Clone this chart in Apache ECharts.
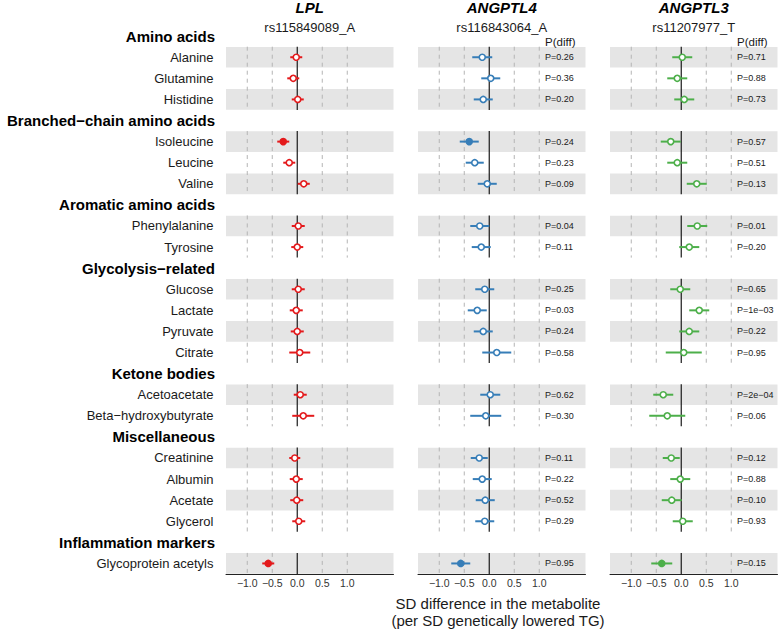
<!DOCTYPE html>
<html><head><meta charset="utf-8">
<script src="https://cdn.jsdelivr.net/npm/echarts@6/dist/echarts.min.js"></script>
<style>html,body{margin:0;padding:0;background:#fff}#c{width:778px;height:631px}</style>
</head><body><div id="c"></div>
<script>
// ---------------- data ----------------
const genes = ["LPL", "ANGPTL4", "ANGPTL3"];
const variants = ["rs115849089_A", "rs116843064_A", "rs11207977_T"];
const groups = ["Amino acids", "Branched\u2212chain amino acids", "Aromatic amino acids",
  "Glycolysis\u2212related", "Ketone bodies", "Miscellaneous", "Inflammation markers"];
const metabolites = ["Alanine", "Glutamine", "Histidine", "Isoleucine", "Leucine", "Valine",
  "Phenylalanine", "Tyrosine", "Glucose", "Lactate", "Pyruvate", "Citrate",
  "Acetoacetate", "Beta\u2212hydroxybutyrate", "Creatinine", "Albumin", "Acetate", "Glycerol",
  "Glycoprotein acetyls"];
const metaboliteGroup = [0, 0, 0, 1, 1, 1, 2, 2, 3, 3, 3, 3, 4, 4, 5, 5, 5, 5, 6];

const lplEst  = [-0.02, -0.08, 0.01, -0.28, -0.16, 0.13, 0.02, 0.00, 0.02, -0.02, 0.00, 0.05, 0.06, 0.12, -0.05, -0.02, -0.01, 0.03, -0.58];
const lplHalf = [0.12, 0.12, 0.12, 0.12, 0.12, 0.12, 0.13, 0.12, 0.13, 0.13, 0.13, 0.21, 0.13, 0.22, 0.11, 0.13, 0.13, 0.13, 0.12];
const lplFilled = [0, 0, 0, 1, 0, 0, 0, 0, 0, 0, 0, 0, 0, 0, 0, 0, 0, 0, 1];

const a4Est  = [-0.14, 0.03, -0.12, -0.40, -0.29, -0.04, -0.19, -0.16, -0.09, -0.24, -0.12, 0.15, 0.02, -0.07, -0.20, -0.14, -0.08, -0.09, -0.57];
const a4Half = [0.20, 0.19, 0.19, 0.19, 0.18, 0.19, 0.19, 0.19, 0.19, 0.19, 0.19, 0.29, 0.20, 0.31, 0.17, 0.19, 0.19, 0.19, 0.19];
const a4Filled = [0, 0, 0, 1, 0, 0, 0, 0, 0, 0, 0, 0, 0, 0, 0, 0, 0, 0, 1];
const a4P = ["0.26", "0.36", "0.20", "0.24", "0.23", "0.09", "0.04", "0.11", "0.25", "0.03", "0.24", "0.58", "0.62", "0.30", "0.11", "0.22", "0.52", "0.29", "0.95"];

const a3Est  = [0.02, -0.08, 0.06, -0.21, -0.08, 0.31, 0.32, 0.16, -0.02, 0.36, 0.16, 0.05, -0.36, -0.28, -0.20, -0.02, -0.19, 0.03, -0.39];
const a3Half = [0.20, 0.20, 0.20, 0.20, 0.20, 0.20, 0.20, 0.20, 0.20, 0.20, 0.20, 0.36, 0.20, 0.36, 0.17, 0.20, 0.20, 0.20, 0.21];
const a3Filled = [0, 0, 0, 0, 0, 0, 0, 0, 0, 0, 0, 0, 0, 0, 0, 0, 0, 0, 1];
const a3P = ["0.71", "0.88", "0.73", "0.57", "0.51", "0.13", "0.01", "0.20", "0.65", "1e\u221203", "0.22", "0.95", "2e\u221204", "0.06", "0.12", "0.88", "0.10", "0.93", "0.15"];

const tickValues = [-1.0, -0.5, 0.0, 0.5, 1.0];
const refLines = [-1.0, -0.5, 0.5, 1.0];
const xTitle = ["SD difference in the metabolite", "(per SD genetically lowered TG)"];

// ---------------- layout ----------------
const FONT = '"Liberation Sans", Arial, Helvetica, sans-serif';
const colors = ["#E41A1C", "#377EB8", "#4DAF4A"];
const X_MIN = -1.425, X_MAX = 1.925;
const gridLeft = [226, 418, 610];
const gridW = 167.5;
const gridTop = 25.6, gridH = 548.4;
const P_X = 1.115;

// build row slots
const rows = [];
const metSlot = [];
const groupSpan = [];
let slot = 0;
groups.forEach((g, gi) => {
  rows.push({ head: true, label: g, slot: slot });
  slot++;
  let k = 0, first = null, last = null;
  metabolites.forEach((m, mi) => {
    if (metaboliteGroup[mi] === gi) {
      rows.push({ head: false, label: m, slot: slot, stripe: k % 2 === 0 });
      metSlot[mi] = slot;
      if (first === null) first = slot;
      last = slot;
      slot++; k++;
    }
  });
  groupSpan.push([first - 0.5, last + 0.5]);
});
const nSlots = slot;
const bandSlots = rows.filter(r => !r.head && r.stripe).map(r => [r.slot]);

const panelData = [
  { est: lplEst, half: lplHalf, filled: lplFilled, p: null },
  { est: a4Est, half: a4Half, filled: a4Filled, p: a4P },
  { est: a3Est, half: a3Half, filled: a3Filled, p: a3P }
];

const grids = [], xAxes = [], yAxes = [], series = [];
panelData.forEach((pd, i) => {
  const col = colors[i];
  grids.push({ left: gridLeft[i], top: gridTop, width: gridW, height: gridH, containLabel: false });
  xAxes.push({
    type: 'value', gridIndex: i, min: X_MIN, max: X_MAX,
    axisLine: { show: true, onZero: false, lineStyle: { color: '#222', width: 1 } },
    axisTick: { show: false }, splitLine: { show: false },
    axisLabel: {
      customValues: tickValues, margin: 3, fontSize: 10.5, fontFamily: FONT, color: '#333',
      formatter: v => (v < 0 ? '\u2212' : '') + Math.abs(v).toFixed(1)
    }
  });
  yAxes.push({ type: 'value', gridIndex: i, min: -0.5, max: nSlots - 0.5, inverse: true, show: false });

  // grey stripes
  series.push({
    type: 'custom', xAxisIndex: i, yAxisIndex: i, z: 1, silent: true,
    data: bandSlots,
    renderItem: (params, api) => {
      const s = api.value(0);
      const p1 = api.coord([X_MIN, s - 0.49]);
      const p2 = api.coord([X_MAX, s + 0.49]);
      return { type: 'rect', shape: { x: p1[0], y: p1[1], width: p2[0] - p1[0], height: p2[1] - p1[1] },
        style: { fill: '#e5e5e5' } };
    }
  });
  // reference lines per group
  series.push({
    type: 'custom', xAxisIndex: i, yAxisIndex: i, z: 2, silent: true,
    data: groupSpan,
    renderItem: (params, api) => {
      const y0 = api.value(0), y1 = api.value(1);
      const children = refLines.map(v => {
        const a = api.coord([v, y0]), b = api.coord([v, y1]);
        return { type: 'line', shape: { x1: a[0], y1: a[1], x2: b[0], y2: b[1] },
          style: { stroke: '#b4b4b4', lineWidth: 1, lineDash: [4, 4] } };
      });
      const a = api.coord([0, y0]), b = api.coord([0, y1]);
      children.push({ type: 'line', shape: { x1: a[0], y1: a[1], x2: b[0], y2: b[1] },
        style: { stroke: '#1a1a1a', lineWidth: 1.2 } });
      return { type: 'group', children: children };
    }
  });
  // CI bars
  series.push({
    type: 'custom', xAxisIndex: i, yAxisIndex: i, z: 3, silent: true,
    data: pd.est.map((e, mi) => [e - pd.half[mi], e + pd.half[mi], metSlot[mi]]),
    renderItem: (params, api) => {
      const a = api.coord([api.value(0), api.value(2)]);
      const b = api.coord([api.value(1), api.value(2)]);
      return { type: 'line', shape: { x1: a[0], y1: a[1], x2: b[0], y2: b[1] },
        style: { stroke: col, lineWidth: 2 } };
    }
  });
  // point estimates
  series.push({
    type: 'scatter', xAxisIndex: i, yAxisIndex: i, z: 4, silent: true,
    symbol: 'circle', symbolSize: 6,
    data: pd.est.map((e, mi) => ({
      value: [e, metSlot[mi]],
      itemStyle: { color: pd.filled[mi] ? col : '#ffffff', borderColor: col, borderWidth: 1.6, opacity: 1 }
    }))
  });
  // P values
  if (pd.p) {
    series.push({
      type: 'custom', xAxisIndex: i, yAxisIndex: i, z: 5, silent: true,
      data: pd.p.map((t, mi) => [metSlot[mi]]),
      renderItem: (params, api) => {
        const c = api.coord([P_X, api.value(0)]);
        return { type: 'text', x: c[0], y: c[1],
          style: { text: 'P=' + pd.p[params.dataIndex], fill: '#1a1a1a', fontSize: 9, fontFamily: FONT,
            align: 'left', verticalAlign: 'middle' } };
      }
    });
    series.push({
      type: 'custom', xAxisIndex: i, yAxisIndex: i, z: 5, silent: true,
      data: [[0.3]],
      renderItem: (params, api) => {
        const c = api.coord([P_X, api.value(0)]);
        return { type: 'text', x: c[0], y: c[1],
          style: { text: 'P(diff)', fill: '#1a1a1a', fontSize: 11.5, fontFamily: FONT,
            align: 'left', verticalAlign: 'middle' } };
      }
    });
  }
});

// row labels on left
series.push({
  type: 'custom', xAxisIndex: 0, yAxisIndex: 0, z: 5, silent: true, clip: false,
  data: rows.map(r => [r.slot]),
  renderItem: (params, api) => {
    const r = rows[params.dataIndex];
    const c = api.coord([X_MIN, api.value(0)]);
    return { type: 'text', x: c[0] - (r.head ? 11 : 12.5), y: c[1],
      style: { text: r.label, fill: r.head ? '#000' : '#1a1a1a', fontSize: r.head ? 15 : 13,
        fontWeight: r.head ? 'bold' : 'normal', fontFamily: FONT, align: 'right', verticalAlign: 'middle' } };
  }
});

const graphic = [];
genes.forEach((g, i) => {
  const cx = gridLeft[i] + gridW / 2;
  graphic.push({ type: 'text', x: cx, y: 7, style: { text: g, fontSize: 15, fontWeight: 'bold', fontStyle: 'italic',
    fontFamily: FONT, fill: '#000', align: 'center', verticalAlign: 'middle' } });
  graphic.push({ type: 'text', x: cx, y: 27, style: { text: variants[i], fontSize: 13,
    fontFamily: FONT, fill: '#1a1a1a', align: 'center', verticalAlign: 'middle' } });
});
xTitle.forEach((t, k) => {
  graphic.push({ type: 'text', x: 498, y: 603 + k * 17, style: { text: t, fontSize: 15,
    fontFamily: FONT, fill: '#1a1a1a', align: 'center', verticalAlign: 'middle' } });
});

const chart = echarts.init(document.getElementById('c'), null, { renderer: 'svg' });
chart.setOption({
  animation: false,
  backgroundColor: '#fff',
  grid: grids, xAxis: xAxes, yAxis: yAxes, series: series, graphic: graphic
});
</script>
</body></html>
